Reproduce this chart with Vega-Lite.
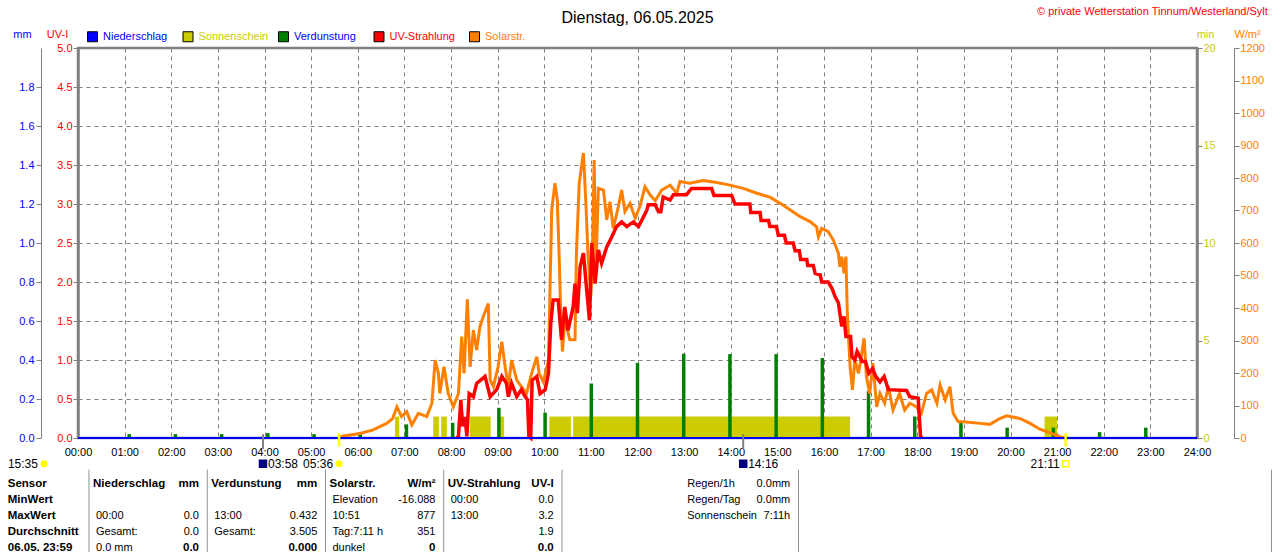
{
  "$schema": "https://vega.github.io/schema/vega-lite/v6.json",
  "autosize": {"type": "none"},
  "width": 1119,
  "height": 390,
  "padding": {"left": 78, "top": 48, "right": 83, "bottom": 114},
  "background": "white",
  "title": {
    "text": "Dienstag, 06.05.2025",
    "anchor": "middle",
    "frame": "group",
    "font": "Liberation Sans",
    "fontSize": 16,
    "fontWeight": "normal",
    "color": "#000000",
    "baseline": "alphabetic",
    "offset": -33
  },
  "datasets": {
    "sonne": [
      {"von": 6.80, "bis": 6.89, "min": 1.1},
      {"von": 7.62, "bis": 7.74, "min": 1.1},
      {"von": 7.79, "bis": 7.91, "min": 1.1},
      {"von": 8.41, "bis": 8.85, "min": 1.1},
      {"von": 9.05, "bis": 9.14, "min": 1.1},
      {"von": 10.11, "bis": 10.57, "min": 1.1},
      {"von": 10.62, "bis": 16.56, "min": 1.1},
      {"von": 20.73, "bis": 21.0, "min": 1.1}
    ],
    "verdunstung": [
      {"h": 1, "mm": 0.02}, {"h": 2, "mm": 0.02}, {"h": 3, "mm": 0.02},
      {"h": 4, "mm": 0.025}, {"h": 5, "mm": 0.02}, {"h": 6, "mm": 0.03},
      {"h": 7, "mm": 0.07}, {"h": 8, "mm": 0.078}, {"h": 9, "mm": 0.155},
      {"h": 10, "mm": 0.13}, {"h": 11, "mm": 0.28}, {"h": 12, "mm": 0.385},
      {"h": 13, "mm": 0.432}, {"h": 14, "mm": 0.43}, {"h": 15, "mm": 0.43},
      {"h": 16, "mm": 0.41}, {"h": 17, "mm": 0.24}, {"h": 18, "mm": 0.11},
      {"h": 19, "mm": 0.085}, {"h": 20, "mm": 0.053}, {"h": 21, "mm": 0.053},
      {"h": 22, "mm": 0.03}, {"h": 23, "mm": 0.053}
    ],
    "niederschlag": [
      {"h": 0, "mm": 0}, {"h": 1, "mm": 0}, {"h": 2, "mm": 0}, {"h": 3, "mm": 0},
      {"h": 4, "mm": 0}, {"h": 5, "mm": 0}, {"h": 6, "mm": 0}, {"h": 7, "mm": 0},
      {"h": 8, "mm": 0}, {"h": 9, "mm": 0}, {"h": 10, "mm": 0}, {"h": 11, "mm": 0},
      {"h": 12, "mm": 0}, {"h": 13, "mm": 0}, {"h": 14, "mm": 0}, {"h": 15, "mm": 0},
      {"h": 16, "mm": 0}, {"h": 17, "mm": 0}, {"h": 18, "mm": 0}, {"h": 19, "mm": 0},
      {"h": 20, "mm": 0}, {"h": 21, "mm": 0}, {"h": 22, "mm": 0}, {"h": 23, "mm": 0},
      {"h": 24, "mm": 0}
    ],
    "solar": [
      {"h": 5.6, "w": 2}, {"h": 5.69, "w": 6}, {"h": 6.05, "w": 14}, {"h": 6.33, "w": 25},
      {"h": 6.62, "w": 45}, {"h": 6.75, "w": 60}, {"h": 6.84, "w": 96}, {"h": 6.94, "w": 66},
      {"h": 7.05, "w": 81}, {"h": 7.16, "w": 40}, {"h": 7.3, "w": 76}, {"h": 7.48, "w": 66},
      {"h": 7.59, "w": 107}, {"h": 7.66, "w": 240}, {"h": 7.73, "w": 199}, {"h": 7.76, "w": 137},
      {"h": 7.85, "w": 219}, {"h": 7.94, "w": 137}, {"h": 8.05, "w": 96}, {"h": 8.16, "w": 137},
      {"h": 8.23, "w": 312}, {"h": 8.28, "w": 199}, {"h": 8.35, "w": 427}, {"h": 8.41, "w": 219},
      {"h": 8.48, "w": 332}, {"h": 8.55, "w": 271}, {"h": 8.62, "w": 342}, {"h": 8.69, "w": 373},
      {"h": 8.8, "w": 414}, {"h": 8.84, "w": 178}, {"h": 8.91, "w": 158}, {"h": 9.01, "w": 219},
      {"h": 9.09, "w": 296}, {"h": 9.16, "w": 219}, {"h": 9.23, "w": 158}, {"h": 9.3, "w": 240},
      {"h": 9.41, "w": 178}, {"h": 9.51, "w": 158}, {"h": 9.62, "w": 137}, {"h": 9.73, "w": 199},
      {"h": 9.84, "w": 250}, {"h": 9.89, "w": 199}, {"h": 9.98, "w": 173}, {"h": 10.09, "w": 240},
      {"h": 10.12, "w": 435}, {"h": 10.16, "w": 702}, {"h": 10.23, "w": 784}, {"h": 10.28, "w": 732},
      {"h": 10.32, "w": 558}, {"h": 10.35, "w": 404}, {"h": 10.39, "w": 266}, {"h": 10.44, "w": 363},
      {"h": 10.55, "w": 302}, {"h": 10.66, "w": 302}, {"h": 10.69, "w": 568}, {"h": 10.75, "w": 784},
      {"h": 10.84, "w": 877}, {"h": 10.89, "w": 732}, {"h": 10.94, "w": 558}, {"h": 11.0, "w": 435},
      {"h": 11.04, "w": 609}, {"h": 11.07, "w": 855}, {"h": 11.11, "w": 527}, {"h": 11.16, "w": 768},
      {"h": 11.27, "w": 763}, {"h": 11.34, "w": 671}, {"h": 11.41, "w": 727}, {"h": 11.48, "w": 645},
      {"h": 11.59, "w": 712}, {"h": 11.66, "w": 763}, {"h": 11.73, "w": 697}, {"h": 11.84, "w": 722},
      {"h": 11.95, "w": 676}, {"h": 12.05, "w": 712}, {"h": 12.16, "w": 773}, {"h": 12.27, "w": 748},
      {"h": 12.38, "w": 730}, {"h": 12.52, "w": 763}, {"h": 12.7, "w": 778}, {"h": 12.84, "w": 753},
      {"h": 12.91, "w": 789}, {"h": 13.12, "w": 784}, {"h": 13.41, "w": 792}, {"h": 13.7, "w": 786},
      {"h": 13.98, "w": 778}, {"h": 14.27, "w": 768}, {"h": 14.56, "w": 753}, {"h": 14.84, "w": 741},
      {"h": 15.06, "w": 722}, {"h": 15.27, "w": 702}, {"h": 15.49, "w": 681}, {"h": 15.7, "w": 666},
      {"h": 15.84, "w": 650}, {"h": 15.88, "w": 619}, {"h": 15.95, "w": 645}, {"h": 16.09, "w": 635},
      {"h": 16.2, "w": 609}, {"h": 16.31, "w": 568}, {"h": 16.34, "w": 527}, {"h": 16.38, "w": 558},
      {"h": 16.43, "w": 507}, {"h": 16.47, "w": 558}, {"h": 16.5, "w": 384}, {"h": 16.56, "w": 219},
      {"h": 16.61, "w": 148}, {"h": 16.66, "w": 240}, {"h": 16.74, "w": 199}, {"h": 16.81, "w": 261},
      {"h": 16.86, "w": 307}, {"h": 16.91, "w": 189}, {"h": 16.98, "w": 137}, {"h": 17.05, "w": 230},
      {"h": 17.13, "w": 96}, {"h": 17.2, "w": 137}, {"h": 17.3, "w": 107}, {"h": 17.38, "w": 158},
      {"h": 17.48, "w": 86}, {"h": 17.62, "w": 137}, {"h": 17.73, "w": 86}, {"h": 17.84, "w": 107},
      {"h": 17.98, "w": 96}, {"h": 18.09, "w": 76}, {"h": 18.2, "w": 137}, {"h": 18.31, "w": 148},
      {"h": 18.42, "w": 107}, {"h": 18.49, "w": 163}, {"h": 18.6, "w": 117}, {"h": 18.7, "w": 158},
      {"h": 18.77, "w": 76}, {"h": 18.88, "w": 50}, {"h": 18.99, "w": 50}, {"h": 19.35, "w": 45},
      {"h": 19.56, "w": 42}, {"h": 19.77, "w": 60}, {"h": 19.92, "w": 68}, {"h": 20.2, "w": 60},
      {"h": 20.42, "w": 45}, {"h": 20.63, "w": 27}, {"h": 20.85, "w": 16}, {"h": 21.06, "w": 4},
      {"h": 21.13, "w": 2}, {"h": 21.2, "w": 0}
    ],
    "uv": [
      {"h": 8.12, "uv": 0}, {"h": 8.16, "uv": 0.02}, {"h": 8.21, "uv": 0.49}, {"h": 8.25, "uv": 0.15},
      {"h": 8.3, "uv": 0.27}, {"h": 8.34, "uv": 0.02}, {"h": 8.39, "uv": 0.57}, {"h": 8.48, "uv": 0.53},
      {"h": 8.55, "uv": 0.7}, {"h": 8.73, "uv": 0.79}, {"h": 8.84, "uv": 0.53}, {"h": 8.98, "uv": 0.62},
      {"h": 9.09, "uv": 0.79}, {"h": 9.19, "uv": 0.7}, {"h": 9.23, "uv": 0.53}, {"h": 9.3, "uv": 0.7},
      {"h": 9.41, "uv": 0.53}, {"h": 9.51, "uv": 0.62}, {"h": 9.59, "uv": 0.53}, {"h": 9.64, "uv": 0.49},
      {"h": 9.67, "uv": 0.02}, {"h": 9.71, "uv": 0.0}, {"h": 9.74, "uv": 0.74}, {"h": 9.84, "uv": 0.79},
      {"h": 9.91, "uv": 0.57}, {"h": 10.02, "uv": 0.62}, {"h": 10.09, "uv": 0.83}, {"h": 10.14, "uv": 1.47},
      {"h": 10.19, "uv": 1.77}, {"h": 10.3, "uv": 1.77}, {"h": 10.37, "uv": 1.26}, {"h": 10.44, "uv": 1.68},
      {"h": 10.51, "uv": 1.38}, {"h": 10.62, "uv": 1.68}, {"h": 10.66, "uv": 1.98}, {"h": 10.71, "uv": 1.6},
      {"h": 10.77, "uv": 2.2}, {"h": 10.84, "uv": 2.37}, {"h": 10.91, "uv": 1.9}, {"h": 10.97, "uv": 1.51},
      {"h": 11.02, "uv": 2.5}, {"h": 11.09, "uv": 1.98}, {"h": 11.16, "uv": 2.41}, {"h": 11.23, "uv": 2.24},
      {"h": 11.34, "uv": 2.45}, {"h": 11.45, "uv": 2.58}, {"h": 11.55, "uv": 2.71}, {"h": 11.66, "uv": 2.77},
      {"h": 11.77, "uv": 2.71}, {"h": 11.91, "uv": 2.77}, {"h": 12.02, "uv": 2.71}, {"h": 12.09, "uv": 2.79},
      {"h": 12.2, "uv": 2.92}, {"h": 12.23, "uv": 2.99}, {"h": 12.38, "uv": 2.99}, {"h": 12.45, "uv": 2.9},
      {"h": 12.5, "uv": 2.9}, {"h": 12.55, "uv": 3.09}, {"h": 12.7, "uv": 3.05}, {"h": 12.77, "uv": 3.12},
      {"h": 13.05, "uv": 3.12}, {"h": 13.16, "uv": 3.2}, {"h": 13.59, "uv": 3.2}, {"h": 13.64, "uv": 3.11},
      {"h": 14.02, "uv": 3.11}, {"h": 14.09, "uv": 3.0}, {"h": 14.41, "uv": 3.0}, {"h": 14.43, "uv": 2.89},
      {"h": 14.63, "uv": 2.89}, {"h": 14.65, "uv": 2.79}, {"h": 14.81, "uv": 2.79}, {"h": 14.84, "uv": 2.71},
      {"h": 14.98, "uv": 2.71}, {"h": 15.02, "uv": 2.6}, {"h": 15.15, "uv": 2.6}, {"h": 15.19, "uv": 2.5},
      {"h": 15.34, "uv": 2.5}, {"h": 15.38, "uv": 2.4}, {"h": 15.47, "uv": 2.4}, {"h": 15.5, "uv": 2.29},
      {"h": 15.63, "uv": 2.29}, {"h": 15.65, "uv": 2.21}, {"h": 15.77, "uv": 2.21}, {"h": 15.81, "uv": 2.11},
      {"h": 15.92, "uv": 2.09}, {"h": 15.95, "uv": 2.0}, {"h": 16.09, "uv": 2.0}, {"h": 16.17, "uv": 1.92},
      {"h": 16.24, "uv": 1.81}, {"h": 16.31, "uv": 1.73}, {"h": 16.34, "uv": 1.6}, {"h": 16.38, "uv": 1.43},
      {"h": 16.43, "uv": 1.56}, {"h": 16.47, "uv": 1.3}, {"h": 16.57, "uv": 1.3}, {"h": 16.6, "uv": 1.04},
      {"h": 16.66, "uv": 1.0}, {"h": 16.71, "uv": 1.11}, {"h": 16.77, "uv": 1.04}, {"h": 16.82, "uv": 0.98},
      {"h": 16.89, "uv": 0.98}, {"h": 16.96, "uv": 0.83}, {"h": 17.04, "uv": 0.89}, {"h": 17.11, "uv": 0.79},
      {"h": 17.2, "uv": 0.72}, {"h": 17.29, "uv": 0.79}, {"h": 17.38, "uv": 0.62}, {"h": 17.77, "uv": 0.61},
      {"h": 17.84, "uv": 0.53}, {"h": 18.02, "uv": 0.51}, {"h": 18.04, "uv": 0.32}, {"h": 18.07, "uv": 0.02},
      {"h": 18.1, "uv": 0}
    ],
    "ereignisse": [
      {"t": -0.73, "zeit": "15:35", "art": "Mond"},
      {"t": 3.967, "zeit": "03:58", "art": "Mondaufgang"},
      {"t": 5.6, "zeit": "05:36", "art": "Sonnenaufgang"},
      {"t": 14.267, "zeit": "14:16", "art": "Monduntergang"},
      {"t": 21.183, "zeit": "21:11", "art": "Sonnenuntergang"}
    ],
    "tabelle": [
      {"row": 0, "col": 0, "part": "label", "text": "Sensor"},
      {"row": 0, "col": 1, "part": "label", "text": "Niederschlag"},
      {"row": 0, "col": 1, "part": "value", "text": "mm"},
      {"row": 0, "col": 2, "part": "label", "text": "Verdunstung"},
      {"row": 0, "col": 2, "part": "value", "text": "mm"},
      {"row": 0, "col": 3, "part": "label", "text": "Solarstr."},
      {"row": 0, "col": 3, "part": "value", "text": "W/m²"},
      {"row": 0, "col": 4, "part": "label", "text": "UV-Strahlung"},
      {"row": 0, "col": 4, "part": "value", "text": "UV-I"},
      {"row": 0, "col": 6, "part": "label", "text": "Regen/1h"},
      {"row": 0, "col": 6, "part": "value", "text": "0.0mm"},
      {"row": 1, "col": 0, "part": "label", "text": "MinWert"},
      {"row": 1, "col": 3, "part": "label", "text": "Elevation"},
      {"row": 1, "col": 3, "part": "value", "text": "-16.088"},
      {"row": 1, "col": 4, "part": "label", "text": "00:00"},
      {"row": 1, "col": 4, "part": "value", "text": "0.0"},
      {"row": 1, "col": 6, "part": "label", "text": "Regen/Tag"},
      {"row": 1, "col": 6, "part": "value", "text": "0.0mm"},
      {"row": 2, "col": 0, "part": "label", "text": "MaxWert"},
      {"row": 2, "col": 1, "part": "label", "text": "00:00"},
      {"row": 2, "col": 1, "part": "value", "text": "0.0"},
      {"row": 2, "col": 2, "part": "label", "text": "13:00"},
      {"row": 2, "col": 2, "part": "value", "text": "0.432"},
      {"row": 2, "col": 3, "part": "label", "text": "10:51"},
      {"row": 2, "col": 3, "part": "value", "text": "877"},
      {"row": 2, "col": 4, "part": "label", "text": "13:00"},
      {"row": 2, "col": 4, "part": "value", "text": "3.2"},
      {"row": 2, "col": 6, "part": "label", "text": "Sonnenschein"},
      {"row": 2, "col": 6, "part": "value", "text": "7:11h"},
      {"row": 3, "col": 0, "part": "label", "text": "Durchschnitt"},
      {"row": 3, "col": 1, "part": "label", "text": "Gesamt:"},
      {"row": 3, "col": 1, "part": "value", "text": "0.0"},
      {"row": 3, "col": 2, "part": "label", "text": "Gesamt:"},
      {"row": 3, "col": 2, "part": "value", "text": "3.505"},
      {"row": 3, "col": 3, "part": "label", "text": "Tag:7:11 h"},
      {"row": 3, "col": 3, "part": "value", "text": "351"},
      {"row": 3, "col": 4, "part": "value", "text": "1.9"},
      {"row": 4, "col": 0, "part": "label", "text": "06.05. 23:59"},
      {"row": 4, "col": 1, "part": "label", "text": "0.0 mm"},
      {"row": 4, "col": 1, "part": "value", "text": "0.0"},
      {"row": 4, "col": 2, "part": "value", "text": "0.000"},
      {"row": 4, "col": 3, "part": "label", "text": "dunkel"},
      {"row": 4, "col": 3, "part": "value", "text": "0"},
      {"row": 4, "col": 4, "part": "value", "text": "0.0"}
    ],
    "spalten": [{"col": 1}, {"col": 2}, {"col": 3}, {"col": 4}, {"col": 5}, {"col": 7}, {"col": 11}]
  },
  "resolve": {"scale": {"x": "independent", "y": "independent"}},
  "layer": [
    {
      "data": {"name": "sonne"},
      "mark": {"type": "rect"},
      "encoding": {
        "x": {"field": "von", "type": "quantitative", "scale": {"domain": [0, 24]}, "axis": null},
        "x2": {"field": "bis"},
        "y": {
          "field": "min", "type": "quantitative", "scale": {"domain": [0, 20]},
          "axis": {
            "orient": "right", "values": [0, 5, 10, 15, 20], "format": "d",
            "labelColor": "#cccc00", "labelAlign": "left", "labelPadding": 1, "tickSize": 5,
            "domainWidth": 2.5, "grid": false,
            "title": "min", "titleColor": "#cccc00", "titleAngle": 0, "titleAlign": "center",
            "titleBaseline": "middle", "titleX": 8, "titleY": -14
          }
        },
        "y2": {"datum": 0},
        "color": {
          "datum": "Sonnenschein", "type": "nominal",
          "scale": {
            "domain": ["Niederschlag", "Sonnenschein", "Verdunstung", "UV-Strahlung", "Solarstr."],
            "range": ["#0000ff", "#cccc00", "#008000", "#ff0000", "#ff8000"]
          },
          "legend": {
            "orient": "none", "legendX": 9, "legendY": -17, "direction": "horizontal",
            "columns": 5, "gridAlign": "all", "columnPadding": 7.5, "title": null,
            "symbolType": "square", "symbolSize": 100, "symbolStrokeColor": "#000000",
            "symbolStrokeWidth": 1, "symbolOpacity": 1, "labelOffset": 5,
            "labelColor": {"expr": "datum.label == 'Sonnenschein' ? '#cccc00' : datum.label == 'UV-Strahlung' ? '#ff0000' : datum.label == 'Solarstr.' ? '#ff8000' : '#0000ff'"}
          }
        }
      }
    },
    {
      "data": {"name": "verdunstung"},
      "mark": {"type": "bar", "orient": "vertical", "width": 3.5, "color": "#008000"},
      "encoding": {
        "x": {"field": "h", "type": "quantitative", "scale": {"domain": [0, 24]}, "axis": null},
        "y": {
          "field": "mm", "type": "quantitative", "scale": {"domain": [0, 2]},
          "axis": {
            "orient": "left", "offset": 37,
            "values": [0, 0.2, 0.4, 0.6, 0.8, 1.0, 1.2, 1.4, 1.6, 1.8], "format": ".1f",
            "labelColor": "#0000ff", "labelPadding": 2, "tickSize": 5, "domainWidth": 1, "grid": false,
            "title": "mm", "titleColor": "#0000ff", "titleAngle": 0, "titleAlign": "center",
            "titleBaseline": "middle", "titleX": -19, "titleY": -14
          }
        }
      }
    },
    {
      "data": {"name": "solar"},
      "mark": {"type": "line", "color": "#ff8000", "strokeWidth": 3},
      "encoding": {
        "x": {"field": "h", "type": "quantitative", "scale": {"domain": [0, 24]}, "axis": null},
        "y": {
          "field": "w", "type": "quantitative", "scale": {"domain": [0, 1200]},
          "axis": {
            "orient": "right", "offset": 37,
            "values": [0, 100, 200, 300, 400, 500, 600, 700, 800, 900, 1000, 1100, 1200], "format": "d",
            "labelColor": "#ff8000", "labelAlign": "left", "labelPadding": 1, "tickSize": 5,
            "domainWidth": 1, "grid": false,
            "title": "W/m²", "titleColor": "#ff8000", "titleAngle": 0, "titleAlign": "center",
            "titleBaseline": "middle", "titleX": 13, "titleY": -14
          }
        }
      }
    },
    {
      "data": {"name": "uv"},
      "mark": {"type": "line", "color": "#ff0000", "strokeWidth": 3.5},
      "encoding": {
        "x": {
          "field": "h", "type": "quantitative", "scale": {"domain": [0, 24]},
          "axis": {
            "orient": "bottom", "values": [0, 1, 2, 3, 4, 5, 6, 7, 8, 9, 10, 11, 12, 13, 14, 15, 16, 17, 18, 19, 20, 21, 22, 23, 24],
            "labelExpr": "(datum.value < 10 ? '0' : '') + datum.value + ':00'",
            "labelColor": "#000000", "labelPadding": 8, "ticks": false, "domain": false,
            "grid": true, "gridColor": "#808080", "gridDash": [4, 4], "gridOpacity": 1, "title": null
          }
        },
        "y": {
          "field": "uv", "type": "quantitative", "scale": {"domain": [0, 5]},
          "axis": {
            "orient": "left", "values": [0, 0.5, 1, 1.5, 2, 2.5, 3, 3.5, 4, 4.5, 5], "format": ".1f",
            "labelColor": "#ff0000", "labelPadding": 1, "tickSize": 5, "domainWidth": 2.5,
            "grid": true, "gridColor": "#808080", "gridDash": [4, 4], "gridOpacity": 1,
            "title": "UV-I", "titleColor": "#ff0000", "titleAngle": 0, "titleAlign": "center",
            "titleBaseline": "middle", "titleX": -21, "titleY": -14
          }
        }
      }
    },
    {
      "data": {"name": "niederschlag"},
      "mark": {"type": "line", "color": "#0000ff", "strokeWidth": 2},
      "encoding": {
        "x": {"field": "h", "type": "quantitative", "scale": {"domain": [0, 24]}, "axis": null},
        "y": {"field": "mm", "type": "quantitative", "scale": {"domain": [0, 2]}, "axis": null}
      }
    },
    {
      "data": {"name": "ereignisse"},
      "encoding": {
        "x": {"field": "t", "type": "quantitative", "scale": {"domain": [0, 24]}, "axis": null}
      },
      "layer": [
        {
          "transform": [{"filter": "datum.art == 'Mondaufgang' || datum.art == 'Monduntergang'"}],
          "mark": {"type": "rule", "color": "#808080", "strokeWidth": 2},
          "encoding": {
            "y": {"datum": 0.05, "type": "quantitative", "scale": {"domain": [0, 5]}, "axis": null},
            "y2": {"datum": -0.14}
          }
        },
        {
          "transform": [{"filter": "datum.art == 'Sonnenaufgang' || datum.art == 'Sonnenuntergang'"}],
          "mark": {"type": "rule", "color": "#ffff00", "strokeWidth": 2.5},
          "encoding": {
            "y": {"datum": 0.06, "type": "quantitative", "scale": {"domain": [0, 5]}, "axis": null},
            "y2": {"datum": -0.11}
          }
        },
        {
          "transform": [{"filter": "datum.art == 'Mondaufgang' || datum.art == 'Monduntergang'"}],
          "mark": {"type": "point", "shape": "square", "filled": true, "color": "#000080", "size": 72, "opacity": 1},
          "encoding": {"y": {"datum": -0.33, "type": "quantitative", "scale": {"domain": [0, 5]}, "axis": null}}
        },
        {
          "transform": [{"filter": "datum.art == 'Mond' || datum.art == 'Sonnenaufgang'"}],
          "mark": {"type": "point", "shape": "circle", "filled": true, "color": "#ffff00", "size": 50, "opacity": 1},
          "encoding": {"y": {"datum": -0.33, "type": "quantitative", "scale": {"domain": [0, 5]}, "axis": null}}
        },
        {
          "transform": [{"filter": "datum.art == 'Sonnenuntergang'"}],
          "mark": {"type": "point", "shape": "square", "filled": false, "color": "#ffff00", "strokeWidth": 1.5, "size": 36, "opacity": 1},
          "encoding": {"y": {"datum": -0.33, "type": "quantitative", "scale": {"domain": [0, 5]}, "axis": null}}
        },
        {
          "transform": [{"filter": "datum.art == 'Mondaufgang' || datum.art == 'Monduntergang'"}],
          "mark": {"type": "text", "align": "left", "baseline": "middle", "dx": 5, "color": "#000000", "fontSize": 12},
          "encoding": {
            "y": {"datum": -0.33, "type": "quantitative", "scale": {"domain": [0, 5]}, "axis": null},
            "text": {"field": "zeit"}
          }
        },
        {
          "transform": [{"filter": "datum.art == 'Mond' || datum.art == 'Sonnenaufgang' || datum.art == 'Sonnenuntergang'"}],
          "mark": {"type": "text", "align": "right", "baseline": "middle", "dx": -6, "color": "#000000", "fontSize": 12},
          "encoding": {
            "y": {"datum": -0.33, "type": "quantitative", "scale": {"domain": [0, 5]}, "axis": null},
            "text": {"field": "zeit"}
          }
        }
      ]
    },
    {
      "data": {"values": [{"text": "© private Wetterstation Tinnum/Westerland/Sylt"}]},
      "mark": {"type": "text", "align": "right", "baseline": "middle", "color": "#ff0000", "fontSize": 11},
      "encoding": {
        "x": {"datum": 25.52, "type": "quantitative", "scale": {"domain": [0, 24]}, "axis": null},
        "y": {"datum": 5.46, "type": "quantitative", "scale": {"domain": [0, 5]}, "axis": null},
        "text": {"field": "text"}
      }
    },
    {
      "data": {"name": "spalten"},
      "mark": {"type": "rule", "color": "#909090", "strokeWidth": 1},
      "encoding": {
        "x": {"field": "col", "type": "quantitative", "scale": {"domain": [0.907, 10.37]}, "axis": null},
        "y": {"datum": -0.9, "type": "quantitative", "scale": {"domain": [-27.25, -2.875], "reverse": true}, "axis": null},
        "y2": {"datum": 4.8}
      }
    },
    {
      "data": {"name": "tabelle"},
      "encoding": {
        "x": {"field": "col", "type": "quantitative", "scale": {"domain": [0.907, 10.37]}, "axis": null},
        "y": {"field": "row", "type": "quantitative", "scale": {"domain": [-27.25, -2.875], "reverse": true}, "axis": null}
      },
      "layer": [
        {
          "transform": [{"filter": "datum.col == 0"}],
          "mark": {"type": "text", "align": "left", "baseline": "middle", "dx": 37, "fontWeight": "bold", "fontSize": 11.5},
          "encoding": {"text": {"field": "text"}}
        },
        {
          "transform": [{"filter": "datum.col > 0 && datum.col < 6 && datum.row == 0 && datum.part == 'label'"}],
          "mark": {"type": "text", "align": "left", "baseline": "middle", "dx": 4, "fontWeight": "bold", "fontSize": 11.5},
          "encoding": {"text": {"field": "text"}}
        },
        {
          "transform": [{"filter": "datum.col > 0 && (datum.row > 0 || datum.col == 6) && datum.part == 'label'"}],
          "mark": {"type": "text", "align": "left", "baseline": "middle", "dx": 7, "fontSize": 11},
          "encoding": {"text": {"field": "text"}}
        },
        {
          "transform": [{"filter": "datum.col > 0 && datum.col < 6 && (datum.row == 0 || datum.row == 4) && datum.part == 'value'"}],
          "mark": {"type": "text", "align": "right", "baseline": "middle", "dx": 110, "fontWeight": "bold", "fontSize": 11.5},
          "encoding": {"text": {"field": "text"}}
        },
        {
          "transform": [{"filter": "datum.col > 0 && datum.part == 'value' && ((datum.row > 0 && datum.row < 4) || datum.col == 6)"}],
          "mark": {"type": "text", "align": "right", "baseline": "middle", "dx": 110, "fontSize": 11},
          "encoding": {"text": {"field": "text"}}
        }
      ]
    }
  ],
  "config": {
    "font": "Liberation Sans",
    "view": {"stroke": "#808080", "strokeWidth": 2.5},
    "axis": {
      "labelFont": "Liberation Sans", "labelFontSize": 11, "titleFont": "Liberation Sans",
      "titleFontSize": 11, "titleFontWeight": "normal", "labelFlush": false, "labelOverlap": false,
      "tickColor": "#808080", "domainColor": "#808080"
    },
    "legend": {"labelFont": "Liberation Sans", "labelFontSize": 11},
    "text": {"font": "Liberation Sans", "fontSize": 11, "color": "#000000"}
  }
}
